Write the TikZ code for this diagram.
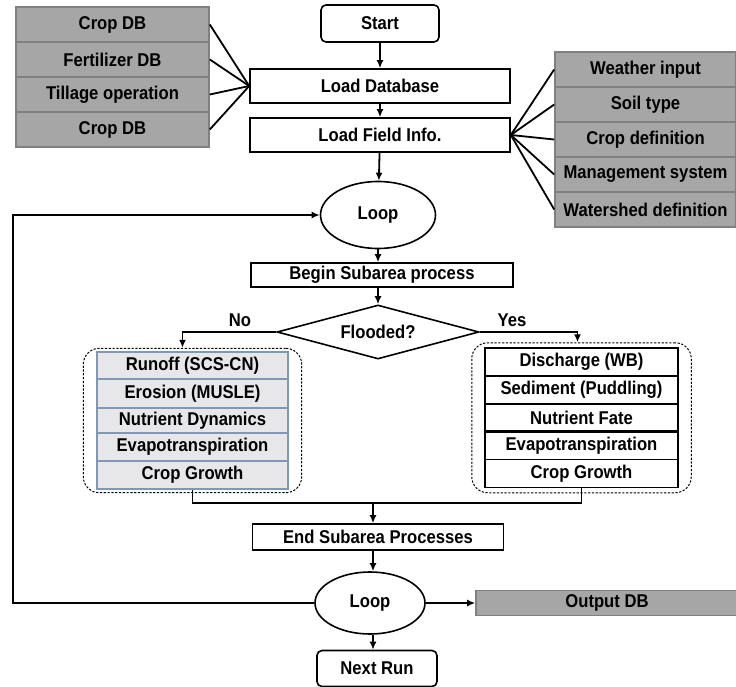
\documentclass[tikz,border=0pt]{standalone}
\usepackage{fontspec}
\setmainfont{Liberation Sans}[FakeStretch=0.9]
\usetikzlibrary{shapes.geometric,arrows.meta,fit}
\definecolor{dbgrey}{HTML}{A6A6A6}
\definecolor{dbedge}{HTML}{808080}
\definecolor{upfill}{HTML}{E7E7EA}
\definecolor{upedge}{HTML}{7E98BA}
\tikzset{
	every node/.style={font=\fontsize{18.5}{20}\selectfont\bfseries, inner sep=0pt},
	stepbox/.style={draw, rectangle, line width=1.6pt, fill=white},
	dbbox/.style={draw=dbedge, rectangle, line width=1.6pt, fill=dbgrey},
	upbox/.style={draw=upedge, rectangle, line width=1.4pt, fill=upfill, minimum width=191pt},
	pdbox/.style={draw, rectangle, line width=1.5pt, fill=white, minimum width=193pt},
	loopnode/.style={draw, ellipse, line width=1.6pt},
	groupbox/.style={draw, dash pattern=on 2.2pt off 1.6pt, line width=1pt, rounded corners=16pt},
	flow/.style={->, line width=1.8pt},
	fan/.style={line width=1.8pt}
}
\begin{document}
\begin{tikzpicture}[x=1pt, y=-1pt, >={Latex[length=8pt,width=7pt]}]
					\useasboundingbox (0,0) rectangle (736,687);
					\node[dbbox, minimum width=193pt, minimum height=35pt] (cropdb)at(112.5, 24.5) {Crop DB};
					\node[dbbox, minimum width=193pt, minimum height=35pt] (fertdb)at(112.5, 59.5) {Fertilizer DB};
					\node[dbbox, minimum width=193pt, minimum height=35pt] (tillage)at(112.5, 94.5) {Tillage operation};
					\node[dbbox, minimum width=193pt, minimum height=35pt] (cropdbb)at(112.5, 129.5) {Crop DB};
					\node[stepbox, rounded corners=5pt, minimum width=118pt, minimum height=37pt] (start)at(380, 23.5) {Start};
					\node[stepbox, minimum width=260pt, minimum height=34pt] (loaddb)at(380, 86) {Load Database};
					\node[stepbox, minimum width=260pt, minimum height=34pt] (field)at(380, 135) {Load Field Info.};
					\node[dbbox, minimum width=181pt, minimum height=35pt] (weather)at(645.5, 69.5) {Weather input};
					\node[dbbox, minimum width=181pt, minimum height=35pt] (soil)at(645.5, 104.5) {Soil type};
					\node[dbbox, minimum width=181pt, minimum height=35pt] (cropdef)at(645.5, 139.5) {Crop definition};
					\node[dbbox, minimum width=181pt, minimum height=35pt] (mgmt)at(645.5, 174.5) {Management system};
					\node[dbbox, minimum width=181pt, minimum height=35pt] (shed)at(645.5, 209.5) {Watershed definition};
					\node[loopnode, minimum width=115pt, minimum height=67pt] (looptop)at(378, 215) {Loop};
					\node[stepbox, minimum width=262pt, minimum height=24pt] (begin)at(382, 275) {Begin Subarea process};
					\node[stepbox, diamond, shape aspect=3.7, minimum width=202pt, minimum height=54pt] (flood)at(378, 332) {Flooded?};
					\node (nolbl)at(240, 320) {No};
					\node (yeslbl)at(512, 320) {Yes};
					\node[upbox, minimum height=27pt] (lrun)at(192.5, 365.5) {Runoff (SCS-CN)};
					\node[upbox, minimum height=29pt] (lero)at(192.5, 393.5) {Erosion (MUSLE)};
					\node[upbox, minimum height=25pt] (lnut)at(192.5, 420.5) {Nutrient Dynamics};
					\node[upbox, minimum height=28pt] (levap)at(192.5, 447) {Evapotranspiration};
					\node[upbox, minimum height=28pt] (lgrow)at(192.5, 475) {Crop Growth};
					\node[groupbox, fit=(lrun)(lgrow), inner xsep=13pt, inner ysep=3pt] (lgroup) {};
					\node[pdbox, minimum height=28pt] (rdis)at(581.5, 362) {Discharge (WB)};
					\node[pdbox, minimum height=28pt] (rsed)at(581.5, 390) {Sediment (Puddling)};
					\node[pdbox, minimum height=27pt] (rfate)at(581.5, 417.5) {Nutrient Fate};
					\node[pdbox, minimum height=27pt] (revap)at(581.5, 446) {Evapotranspiration};
					\node[pdbox, minimum height=28pt] (rgrow)at(581.5, 473.5) {Crop Growth};
					\node[groupbox, fit=(rdis)(rgrow), inner xsep=12.5pt, inner ysep=4.5pt] (rgroup) {};
					\node[stepbox, minimum width=251pt, minimum height=26pt] (endsub)at(378, 537) {End Subarea Processes};
					\node[loopnode, minimum width=110pt, minimum height=62pt] (loopb)at(370, 603) {Loop};
					\node[dbbox, minimum width=262pt, minimum height=25pt] (outdb)at(607, 603) {Output DB};
					\node[stepbox, rounded corners=5pt, minimum width=120pt, minimum height=36pt] (nextrun)at(377, 668.5) {Next Run};
					\coordinate (merge)at(373, 502);
					\coordinate (back)at(13, 603);
					\draw[fan] (cropdb.east) -- (loaddb.west);
					\draw[fan] (fertdb.east) -- (loaddb.west);
					\draw[fan] (tillage.east) -- (loaddb.west);
					\draw[fan] (cropdbb.east) -- (loaddb.west);
					\draw[fan] (field.east) -- (weather.west);
					\draw[fan] (field.east) -- (soil.west);
					\draw[fan] (field.east) -- (cropdef.west);
					\draw[fan] (field.east) -- (mgmt.west);
					\draw[fan] (field.east) -- (shed.west);
					\draw[flow] (start) -- (loaddb);
					\draw[flow] (loaddb) -- (field);
					\draw[flow] (field) -- (looptop);
					\draw[flow] (looptop) -- (looptop |- begin.north);
					\draw[flow] (looptop |- begin.south) -- (flood);
					\draw[flow] (flood.west) -| ([xshift=-10pt]lgroup.north);
					\draw[flow] (flood.east) -| ([xshift=-4pt]rgroup.north);
					\draw[fan] (lgrow.south) -- ++(0,13) -| (rgrow.south);
					\draw[flow] (merge) -- (merge |- endsub.north);
					\draw[flow] (merge |- endsub.south) -- (merge |- loopb.north);
					\draw[flow] (merge |- loopb.south) -- (merge |- nextrun.north);
					\draw[flow] (loopb) -- (outdb);
					\draw[flow] (loopb.west) -- (back) |- (looptop.west);
				\end{tikzpicture}
\end{document}
